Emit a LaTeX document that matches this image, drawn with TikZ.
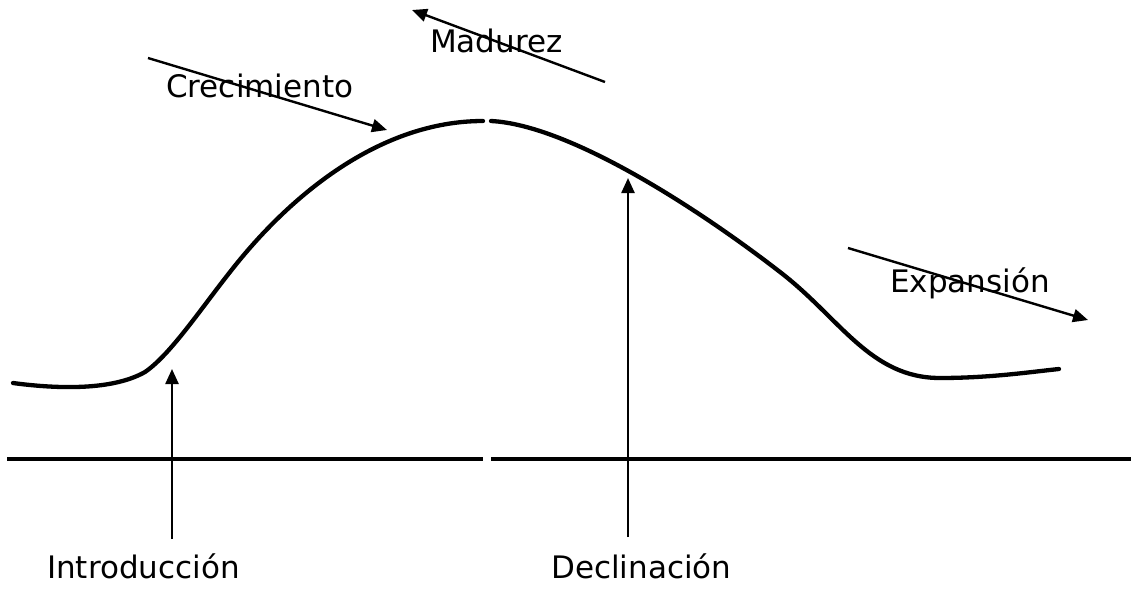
\documentclass[tikz,border=0pt]{standalone}
\usepackage{fontspec}
\setmainfont{DejaVu Sans}
\usetikzlibrary{arrows.meta}

\begin{document}
\begin{tikzpicture}[x=1pt, y=-1pt,
    curveLine/.style={line width=4.3pt, line join=round, line cap=round},
    axisLine/.style={line width=4pt},
    stageArrow/.style={line width=2.4pt, -{Triangle[length=15pt,width=13pt]}},
    stageLabel/.style={font=\fontsize{31}{36}\selectfont, inner sep=0pt, anchor=base west}
]
    \useasboundingbox (0,0) rectangle (1133,589);

    % base line, split in the middle
    \coordinate (axisL) at (7,459);
    \coordinate (axisGapL) at (483,459);
    \coordinate (axisGapR) at (491,459);
    \coordinate (axisR) at (1131,459);
    \draw[axisLine] (axisL) -- (axisGapL);
    \draw[axisLine] (axisGapR) -- (axisR);

    % life cycle curve
    \draw[curveLine] (13,383) .. controls (50,388) and (110,392) .. (145,372)
        .. controls (170,355) and (200,310) .. (230,272)
        .. controls (290,195) and (380,121) .. (483,121);
    \draw[curveLine] (491,121) .. controls (570,125) and (700,210) .. (780,272)
        .. controls (840,318) and (870,378) .. (940,378)
        .. controls (990,378) and (1030,372) .. (1059,369);

    % labels
    \node[stageLabel] (crec) at (166,97) {Crecimiento};
    \node[stageLabel] (mad) at (430,52) {Madurez};
    \node[stageLabel] (expa) at (890,292) {Expansión};
    \node[stageLabel] (intro) at (47,578) {Introducción};
    \node[stageLabel] (decl) at (551,578) {Declinación};

    % arrows
    \coordinate (crecTail) at (148,58);
    \coordinate (crecTip) at (387,130);
    \coordinate (madTail) at (605,82);
    \coordinate (madTip) at (412,10);
    \coordinate (expaTail) at (848,248);
    \coordinate (expaTip) at (1088,320);
    \coordinate (introTail) at (172,539);
    \coordinate (introTip) at (172,369);
    \coordinate (declTail) at (628,537);
    \coordinate (declTip) at (628,178);

    \draw[stageArrow] (crecTail) -- (crecTip);
    \draw[stageArrow] (madTail) -- (madTip);
    \draw[stageArrow] (expaTail) -- (expaTip);
    \draw[stageArrow] (introTail) -- (introTip);
    \draw[stageArrow] (declTail) -- (declTip);
\end{tikzpicture}
\end{document}
